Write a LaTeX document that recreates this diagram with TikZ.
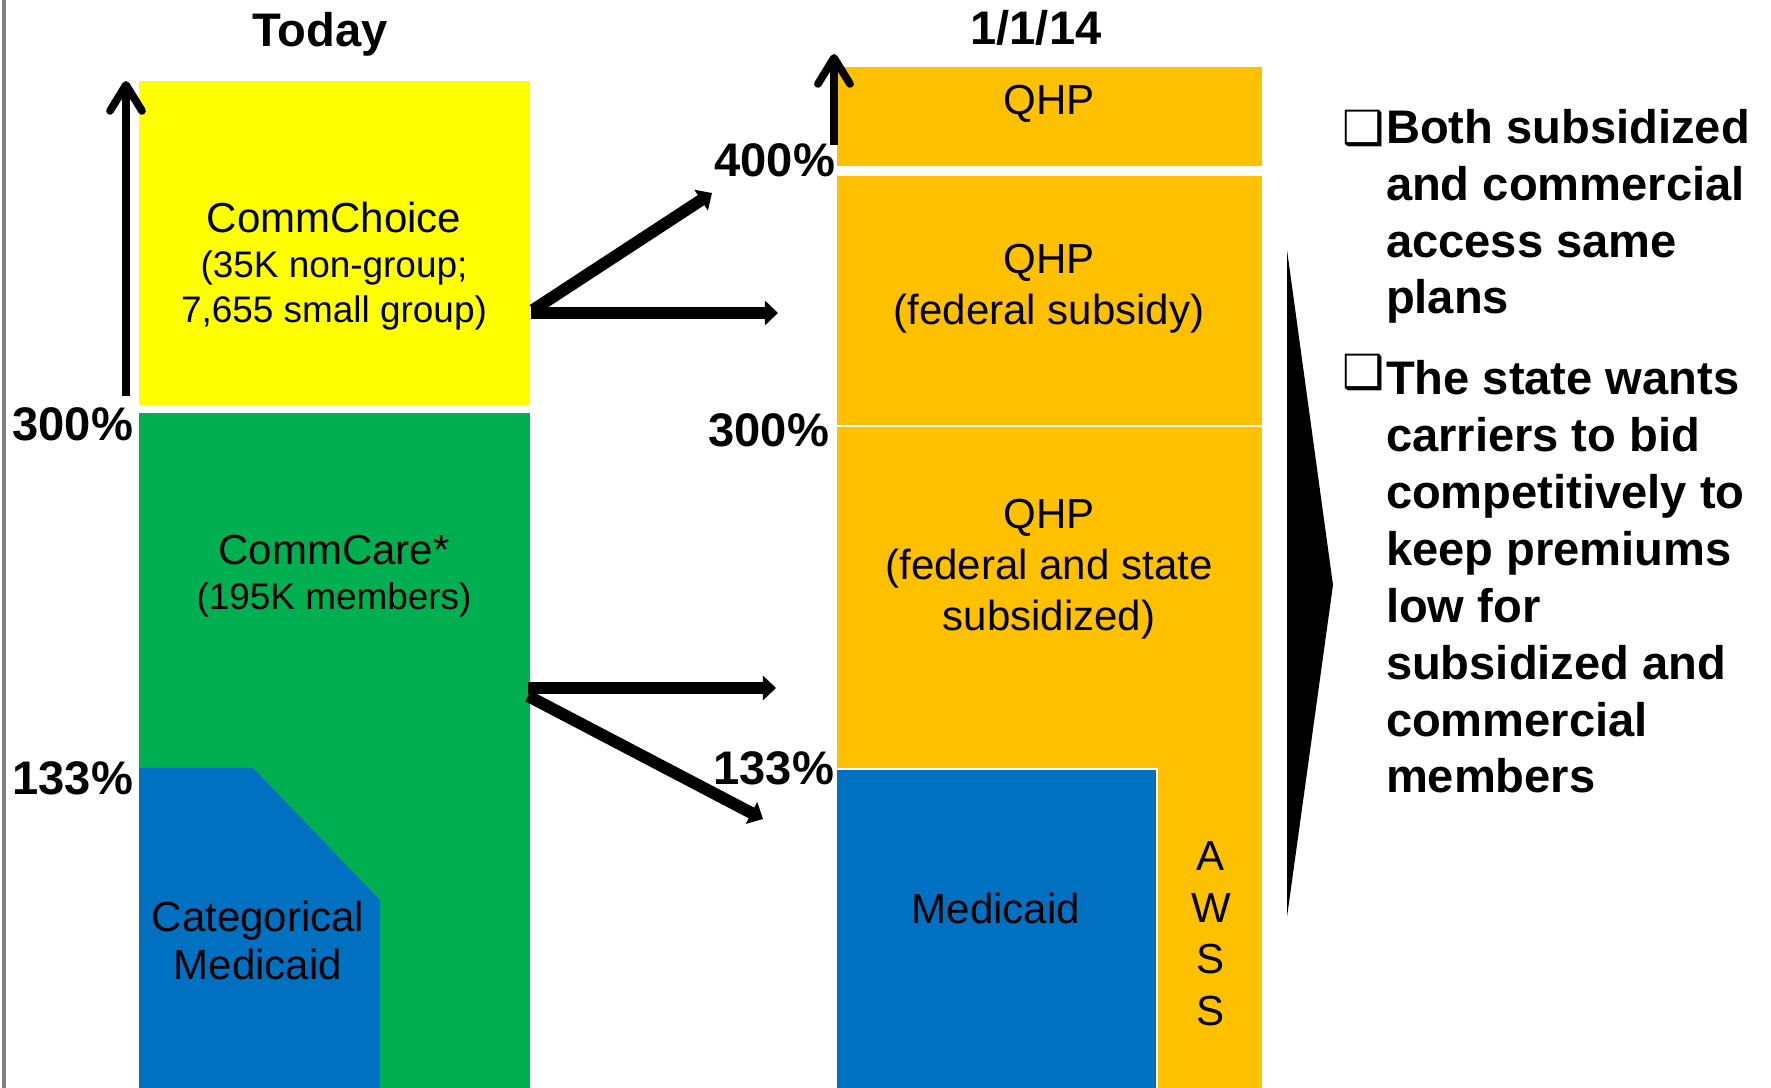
\documentclass[tikz,border=0pt]{standalone}
\usepackage{fontspec}
\setmainfont{Liberation Sans}
\newfontfamily\symfont{DejaVu Sans}
\usetikzlibrary{arrows.meta}
\definecolor{ccyellow}{HTML}{FFFF00}
\definecolor{ccgreen}{HTML}{00B050}
\definecolor{ccblue}{HTML}{0070C0}
\definecolor{qhporange}{HTML}{FFC000}

\begin{document}
\begin{tikzpicture}[x=0.01cm,y=-0.01cm,
 every node/.style={inner sep=0pt,outer sep=0pt},
 band/.style={draw=white,line width=0.7pt},
 lbl/.style={font=\fontsize{11.95}{14.6}\selectfont,align=center},
 sublbl/.style={font=\fontsize{10.5}{12.9}\selectfont,align=center},
 pct/.style={font=\bfseries\fontsize{13.4}{16}\selectfont},
 note/.style={font=\bfseries\fontsize{13.4}{16.2}\selectfont,align=left},
 flow/.style={line width=3.4pt,-{Triangle[length=1.3mm,width=2.4mm]}},
 rise/.style={line width=2.2pt,-{Straight Barb[length=2.6mm,width=3.2mm,round]}}]
\useasboundingbox (0,0) rectangle (1771,1088);
\draw[gray,line width=0.9pt] (4,0) -- (4,1088);

% today
\node[pct,anchor=base] (today) at (320,47) {Today};
\fill[ccyellow] (139,81) rectangle (530,405);
\fill[ccgreen] (139,413) rectangle (530,1088);
\fill[ccblue] (139,768) -- (253,768) -- (380,900) -- (380,1088) -- (139,1088) -- cycle;
\node[sublbl,anchor=base] (choice) at (334,323)
 {{\fontsize{11.95}{12.9}\selectfont CommChoice}\\(35K non-group;\\7,655 small group)};
\node[sublbl,anchor=base] (care) at (334,610)
 {{\fontsize{11.95}{13.4}\selectfont CommCare*}\\(195K members)};
\node[lbl,font=\fontsize{11.95}{13.6}\selectfont,anchor=base] (catmed) at (258,979) {Categorical\\Medicaid};
\node[pct,anchor=base east] (p300a) at (133,441) {300\%};
\node[pct,anchor=base east] (p133a) at (133,795) {133\%};
\coordinate (lo1) at (126,396); \coordinate (hi1) at (126,81);
\draw[rise] (lo1) -- (hi1);

% 1/1/14
\node[pct,anchor=base] (later) at (1036,45) {1/1/14};
\fill[qhporange,band] (836,66) rectangle (1263,167);
\fill[qhporange,band] (836,175) rectangle (1263,426);
\fill[qhporange,band] (836,426) rectangle (1263,1092);
\fill[ccblue,band] (836,769) rectangle (1157,1092);
\node[lbl,anchor=base] (q1) at (1049,115) {QHP};
\node[lbl,anchor=base] (q2) at (1049,325) {QHP\\(federal subsidy)};
\node[lbl,anchor=base] (q3) at (1049,631) {QHP\\(federal and state\\subsidized)};
\node[lbl,anchor=base] (med) at (996,924) {Medicaid};
\node[lbl,anchor=base] (awss) at (1211,1025) {A\\W\\S\\S};
\node[pct,anchor=base east] (p400) at (835,177) {400\%};
\node[pct,anchor=base east] (p300b) at (829,447) {300\%};
\node[pct,anchor=base east] (p133b) at (834,785) {133\%};
\coordinate (lo2) at (834,145); \coordinate (hi2) at (834,54);
\draw[rise] (lo2) -- (hi2);

% moves
\coordinate (y0) at (533,310); \coordinate (y1) at (712,193);
\coordinate (y2) at (531,313); \coordinate (y3) at (778,313);
\coordinate (g0) at (528,696); \coordinate (g1) at (763,819);
\coordinate (g2) at (528,688); \coordinate (g3) at (776,688);
\draw[flow] (y0) -- (y1);
\draw[flow] (y2) -- (y3);
\draw[flow] (g2) -- (g3);
\draw[flow] (g0) -- (g1);

% notes
\fill (1287,250) -- (1333,585) -- (1287,917) -- cycle;
\node[note,anchor=base west] (m1) at (1342,145) {\symfont ❑};
\node[note,anchor=base west] (t1) at (1386,314) {Both subsidized\\and commercial\\access same\\plans};
\node[note,anchor=base west] (m2) at (1342,389) {\symfont ❑};
\node[note,anchor=base west] (t2) at (1386,793) {The state wants\\carriers to bid\\competitively to\\keep premiums\\low for\\subsidized and\\commercial\\members};
\end{tikzpicture}
\end{document}
